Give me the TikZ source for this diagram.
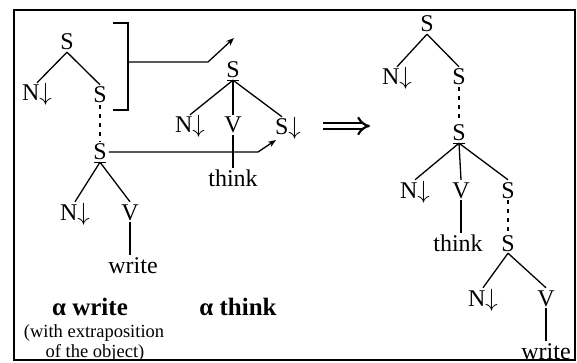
\documentclass[tikz,border=0pt]{standalone}
\usepackage{fontspec}
\setmainfont{Liberation Serif}
\usetikzlibrary{arrows.meta}
\begin{document}
\begin{tikzpicture}[x=1pt,y=-1pt,
  lbl/.style={inner sep=2pt, text height=16pt, text depth=0pt, font=\fontsize{24}{24}\selectfont},
  captxt/.style={inner sep=0pt, font=\fontsize{25}{25}\selectfont\bfseries},
  small/.style={inner sep=0pt, font=\fontsize{18.5}{18.5}\selectfont},
  edge/.style={line width=1.3pt},
  dsh/.style={line width=1.3pt, dash pattern=on 4pt off 5pt},
  arr/.style={line width=1.3pt, -{Stealth[length=8pt,width=6pt]}},
  frame/.style={line width=1.6pt}]
\useasboundingbox (0,0) rectangle (577,363);
\draw[frame] (14,10) rectangle (575,360);

% left tree (alpha write)
\node[lbl] (lS1) at (67,42) {S};
\node[lbl] (lN1) at (37,93) {N$\downarrow$};
\node[lbl] (lS2) at (100,95) {S};
\node[lbl] (lS3) at (100,152) {S};
\node[lbl] (lN2) at (75,212) {N$\downarrow$};
\node[lbl] (lV) at (130,212) {V};
\node[lbl] (lw) at (133,265) {write};
\draw[edge] (lS1.south) -- (lN1.north);
\draw[edge] (lS1.south) -- (lS2.north);
\draw[dsh] (lS2.south) -- (lS3.north);
\draw[edge] ([xshift=-6pt]lS3.south) -- ([xshift=6pt]lS3.south);
\draw[edge] (lS3.south) -- (lN2.north);
\draw[edge] (lS3.south) -- (lV.north);
\draw[edge] (lV.south) -- (lV.south |- lw.north);

% bracket and arrows
\coordinate (bt) at (113,23);
\coordinate (btr) at (128,23);
\coordinate (bbr) at (128,110);
\coordinate (bb) at (113,110);
\coordinate (bm) at (128,62);
\coordinate (a1k) at (208,62);
\coordinate (a1e) at (234,38);
\draw[edge] (bt) -- (btr) -- (bbr) -- (bb);
\draw[arr] (bm) -- (a1k) -- (a1e);
\coordinate (a2k) at (258,155);
\coordinate (a2e) at (276,140);
\draw[arr] (lS3.east) -- (lS3.east -| a2k) -- (a2e);

% think tree
\node[lbl] (tS) at (233,70) {S};
\node[lbl] (tN) at (190,125) {N$\downarrow$};
\node[lbl] (tV) at (233,125) {V};
\node[lbl] (tS2) at (288,127) {S$\downarrow$};
\node[lbl] (tt) at (233,178) {think};
\draw[edge] ([xshift=-6pt]tS.south) -- ([xshift=6pt]tS.south);
\draw[edge] (tS.south) -- (tN.north);
\draw[edge] (tS.south) -- (tV.north);
\draw[edge] (tS.south) -- ([xshift=-6pt]tS2.north);
\draw[edge] (tV.south) -- (tt.north);

% implies
\coordinate (ia) at (323,126);
\coordinate (ib) at (370,126);
\draw[line width=2.2pt, double distance=4pt, -{Implies}] (ia) -- (ib);

% right tree (derived)
\node[lbl] (rS1) at (427,24) {S};
\node[lbl] (rN1) at (397,77) {N$\downarrow$};
\node[lbl] (rS2) at (459,77) {S};
\node[lbl] (rS3) at (459,133) {S};
\node[lbl] (rN2) at (415,190) {N$\downarrow$};
\node[lbl] (rV) at (461,190) {V};
\node[lbl] (rS4) at (508,190) {S};
\node[lbl] (rt) at (458,243) {think};
\node[lbl] (rS5) at (508,243) {S};
\node[lbl] (rN3) at (483,298) {N$\downarrow$};
\node[lbl] (rV2) at (546,298) {V};
\node[lbl] (rw) at (546,351) {write};
\draw[edge] (rS1.south) -- (rN1.north);
\draw[edge] (rS1.south) -- (rS2.north);
\draw[dsh] (rS2.south) -- (rS3.north);
\draw[edge] ([xshift=-6pt]rS3.south) -- ([xshift=6pt]rS3.south);
\draw[edge] (rS3.south) -- (rN2.north);
\draw[edge] (rS3.south) -- (rV.north);
\draw[edge] (rS3.south) -- (rS4.north);
\draw[edge] (rV.south) -- (rV.south |- rt.north);
\draw[dsh] (rS4.south) -- (rS5.north);
\draw[edge] (rS5.south) -- (rN3.north);
\draw[edge] (rS5.south) -- (rV2.north);
\draw[edge] (rV2.south) -- (rV2.south |- rw.north);

% captions
\node[captxt] (c1) at (90,307) {α write};
\node[small] (c2) at (94,333) {(with extraposition};
\node[small] (c3) at (95,353) {of the object)};
\node[captxt] (c4) at (238,307) {α think};
\end{tikzpicture}
\end{document}
